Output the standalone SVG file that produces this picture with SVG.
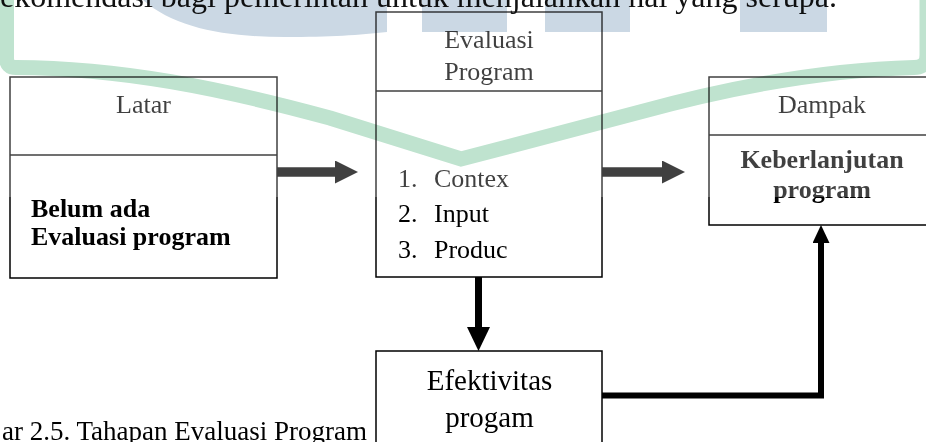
<svg xmlns="http://www.w3.org/2000/svg" width="926" height="442" viewBox="0 0 926 442">
<defs>
<style>
.box{fill:none;stroke:#000;stroke-width:1.5}
.t{font-family:"Liberation Serif","Times New Roman",serif;font-size:26px;fill:#000}
.c{text-anchor:middle}
.b{font-weight:bold}
.con{fill:none;stroke:#000}
.wm{mix-blend-mode:multiply}
</style>
<marker id="h1" markerUnits="userSpaceOnUse" markerWidth="24" markerHeight="24" refX="0" refY="11.5" orient="auto"><path d="M0,0 L23,11.5 L0,23 Z" fill="#000"/></marker>
<marker id="h2" markerUnits="userSpaceOnUse" markerWidth="25" markerHeight="24" refX="0" refY="11.5" orient="auto"><path d="M0,0 L24,11.5 L0,23 Z" fill="#000"/></marker>
<marker id="h3" markerUnits="userSpaceOnUse" markerWidth="19" markerHeight="18" refX="0" refY="8.5" orient="auto"><path d="M0,0 L18,8.5 L0,17 Z" fill="#000"/></marker>
</defs>
<rect x="0" y="0" width="926" height="442" fill="#fff"/>

<g id="node-latar">
<rect class="box" x="10" y="77" width="267" height="201"/>
<line class="box" x1="10" y1="155" x2="277" y2="155"/>
<text class="t c" x="143.5" y="113">Latar</text>
<text class="t b" x="31" y="217">Belum ada</text>
<text class="t b" x="31" y="245">Evaluasi program</text>
</g>

<g id="node-evaluasi">
<rect class="box" x="376" y="12" width="226" height="265"/>
<line class="box" x1="376" y1="91" x2="602" y2="91"/>
<text class="t c" x="489" y="48">Evaluasi</text>
<text class="t c" x="489" y="80">Program</text>
<text class="t" x="398" y="187">1.</text><text class="t" x="434" y="187">Contex</text>
<text class="t" x="398" y="222">2.</text><text class="t" x="434" y="222">Input</text>
<text class="t" x="398" y="258">3.</text><text class="t" x="434" y="258">Produc</text>
</g>

<g id="node-dampak">
<rect class="box" x="709" y="77" width="228" height="148"/>
<line class="box" x1="709" y1="135" x2="937" y2="135"/>
<text class="t c" x="822" y="113">Dampak</text>
<text class="t c b" x="822" y="168">Keberlanjutan</text>
<text class="t c b" x="822" y="198">program</text>
</g>

<g id="node-efektivitas">
<rect class="box" x="376" y="351" width="226" height="110"/>
<text class="t c" x="489.5" y="390" style="font-size:29px">Efektivitas</text>
<text class="t c" x="489.5" y="427" style="font-size:29px">progam</text>
</g>

<g id="connectors">
<line class="con" x1="277" y1="172" x2="335" y2="172" stroke-width="9.5" marker-end="url(#h1)"/>
<line class="con" x1="602" y1="172" x2="662" y2="172" stroke-width="9.5" marker-end="url(#h1)"/>
<line class="con" x1="478.5" y1="277" x2="478.5" y2="327" stroke-width="7" marker-end="url(#h2)"/>
<polyline class="con" points="602,395.5 821,395.5 821,243" stroke-width="6" marker-end="url(#h3)"/>
</g>

<rect id="fade" x="0" y="0" width="926" height="197" fill="#fff" fill-opacity="0.25"/>

<text class="t" x="0" y="7" style="font-size:32px;fill:#111">ekomendasi bagi pemerintah untuk menjalankan hal yang serupa.</text>
<text class="t" x="367" y="440" style="font-size:27px;text-anchor:end">ar 2.5. Tahapan Evaluasi Program</text>

<g id="watermark" class="wm">
<path fill="#cbd8e4" d="M143,-5 L143,0 C175,28 225,37 285,37 C330,37 360,35 387,32 L387,-5 Z"/>
<rect fill="#cbd8e4" x="422" y="-5" width="85" height="37"/>
<rect fill="#cbd8e4" x="545" y="-5" width="85" height="37"/>
<rect fill="#cbd8e4" x="740" y="-5" width="87" height="37"/>
<path fill="none" stroke="#bfe3cf" stroke-width="15" stroke-linejoin="miter" d="M6.5,-5 L6.5,58 Q6.5,67.5 16,67.5 C120,68 220,88 330,118 L461,159 L640,112 C720,90 820,70 914,67.5 Q927,67.5 927,55 L927,-5"/>
</g>
</svg>
